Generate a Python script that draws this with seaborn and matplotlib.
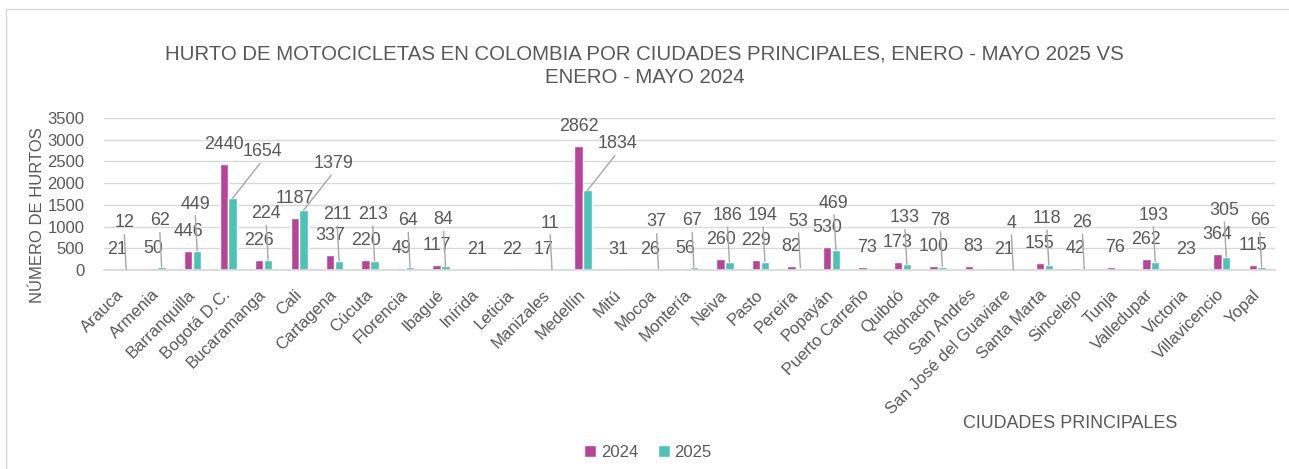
import numpy as np
import pandas as pd
import matplotlib
matplotlib.use("Agg")
import matplotlib.pyplot as plt
import seaborn as sns
from matplotlib import font_manager
from matplotlib.patches import Rectangle, Patch

CITIES = ["Arauca", "Armenia", "Barranquilla", "Bogotá D.C.", "Bucaramanga", "Cali",
          "Cartagena", "Cúcuta", "Florencia", "Ibagué", "Inírida", "Leticia", "Manizales",
          "Medellín", "Mitú", "Mocoa", "Montería", "Neiva", "Pasto", "Pereira", "Popayán",
          "Puerto Carreño", "Quibdó", "Riohacha", "San Andrés", "San José del Guaviare",
          "Santa Marta", "Sincelejo", "Tunja", "Valledupar", "Victoria", "Villavicencio", "Yopal"]
HURTOS_2024 = [21, 50, 446, 2440, 226, 1187, 337, 220, 49, 117, 21, 22, 17, 2862, 31, 26,
               56, 260, 229, 82, 530, 73, 173, 100, 83, 21, 155, 42, 76, 262, 23, 364, 115]
HURTOS_2025 = [12, 62, 449, 1654, 224, 1379, 211, 213, 64, 84, np.nan, np.nan, 11, 1834,
               np.nan, 37, 67, 186, 194, 53, 469, np.nan, 133, 78, np.nan, 4, 118, 26,
               np.nan, 193, np.nan, 305, 66]
YEARS = ["2024", "2025"]
COLORS = ["#B7449A", "#4DC3B7"]
TEXT = "#595959"

sns.set_theme(style="white")
names = {f.name for f in font_manager.fontManager.ttflist}
FONT = "Liberation Sans Narrow" if "Liberation Sans Narrow" in names else "Liberation Sans"
plt.rcParams["font.family"] = [FONT, "DejaVu Sans"]
scale = 1.0 if FONT == "Liberation Sans Narrow" else 0.92

df = pd.DataFrame({
    "ciudad": CITIES * 2,
    "anio": [YEARS[0]] * len(CITIES) + [YEARS[1]] * len(CITIES),
    "hurtos": HURTOS_2024 + HURTOS_2025,
})

fig = plt.figure(figsize=(12.89, 4.69), dpi=100)
ax = fig.add_axes([104 / 1289, 1 - 270 / 469, (1275 - 104) / 1289, (270 - 118) / 469])

sns.barplot(data=df, x="ciudad", y="hurtos", hue="anio", palette=COLORS, ax=ax,
            width=0.5, gap=0.05, errorbar=None, legend=False, saturation=1)

ax.set_ylim(0, 3500)
ax.set_yticks(range(0, 3501, 500))
ax.set_xlim(-0.5, len(CITIES) - 0.5)
ax.yaxis.grid(True, color="#D9D9D9", lw=1)
ax.set_axisbelow(True)
for s in ["top", "right", "left"]:
    ax.spines[s].set_visible(False)
ax.spines["bottom"].set_color("#D9D9D9")
ax.tick_params(axis="y", length=0, pad=14, labelsize=13 * scale, labelcolor=TEXT)
ax.tick_params(axis="x", length=0, pad=16, labelsize=13 * scale, labelcolor=TEXT)
plt.setp(ax.get_xticklabels(), rotation=45, ha="right", va="center", rotation_mode="anchor")
ax.set_xlabel("")
ax.set_ylabel("NÚMERO DE HURTOS", fontsize=13 * scale, color=TEXT)
ax.yaxis.set_label_coords(-0.05, 0.36)

missing_2025 = {i for i, v in enumerate(HURTOS_2025) if not np.isfinite(v)}
lab_size = 14 * scale

# 2024 labels
for p in ax.containers[0]:
    h = p.get_height()
    if not np.isfinite(h):
        continue
    cx = p.get_x() + p.get_width() / 2
    idx = int(round(cx))
    if idx in missing_2025:
        cx = idx
    ax.annotate(f"{int(h)}", (cx, h), xytext=(0, 11), textcoords="offset pixels",
                ha="center", va="bottom", fontsize=lab_size, color=TEXT)

# 2025 labels with leader lines
for p in ax.containers[1]:
    h = p.get_height()
    if not np.isfinite(h):
        continue
    cx = p.get_x() + p.get_width() / 2
    dx = 30 if h > 1000 else -2
    ax.annotate(f"{int(h)}", (cx, h), xytext=(dx, 38), textcoords="offset pixels",
                ha="center", va="bottom", fontsize=lab_size, color=TEXT,
                arrowprops=dict(arrowstyle="-", color="#A6A6A6", lw=1,
                                shrinkA=0, shrinkB=0, relpos=(0.5, 0.0)))

fig.suptitle("HURTO DE MOTOCICLETAS EN COLOMBIA POR CIUDADES PRINCIPALES, ENERO - MAYO 2025 VS\nENERO - MAYO 2024",
             x=0.5, y=1 - 45 / 469, fontsize=14.7, color=TEXT, linespacing=1.25)

fig.text(1070 / 1289, 1 - 423 / 469, "CIUDADES PRINCIPALES", ha="center", va="center",
         fontsize=14 * scale, color=TEXT)

handles = [Patch(facecolor=c, label=y) for c, y in zip(COLORS, YEARS)]
fig.legend(handles=handles, loc="center", bbox_to_anchor=(648 / 1289, 1 - 452 / 469), ncol=2,
           frameon=False, fontsize=13 * scale, labelcolor=TEXT, handlelength=0.7,
           handleheight=0.7, handletextpad=0.3, columnspacing=1.2)

fig.patches.append(Rectangle((6 / 1289, -0.01), 1.0, 1 - 9 / 469 + 0.01, transform=fig.transFigure,
                             fill=False, edgecolor="#D9D9D9", lw=1))

fig.savefig("out.png", dpi=100)
